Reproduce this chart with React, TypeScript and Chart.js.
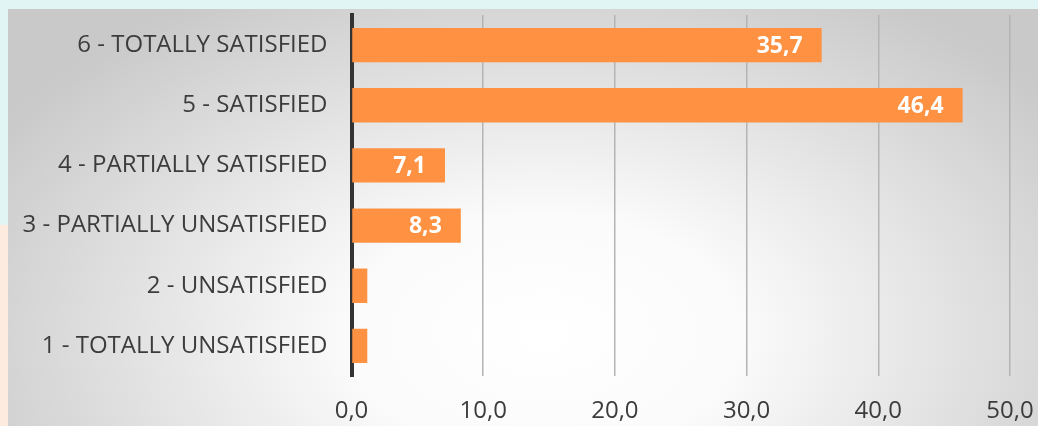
import React, { useEffect, useRef } from "react";
import { Chart, registerables } from "chart.js";

Chart.register(...registerables);

const categories = [
  "6 - TOTALLY SATISFIED",
  "5 - SATISFIED",
  "4 - PARTIALLY SATISFIED",
  "3 - PARTIALLY UNSATISFIED",
  "2 - UNSATISFIED",
  "1 - TOTALLY UNSATISFIED",
];
const values = [35.7, 46.4, 7.1, 8.3, 1.2, 1.2];
const showLabel = [true, true, true, true, false, false];
const xTicks = [0, 10, 20, 30, 40, 50];

const BAR_COLOR = "#fe9142";
const TEXT_COLOR = "#3c3c3c";
const FONT = "'Open Sans', 'Noto Sans', sans-serif";

const valueLabelPlugin = {
  id: "valueLabels",
  afterDatasetsDraw(chart: any) {
    const ctx = chart.ctx;
    const meta = chart.getDatasetMeta(0);
    ctx.save();
    ctx.fillStyle = "#ffffff";
    ctx.font = `bold 23px ${FONT}`;
    ctx.textAlign = "right";
    ctx.textBaseline = "middle";
    meta.data.forEach((bar: any, i: number) => {
      if (!showLabel[i]) return;
      const txt = values[i].toFixed(1).replace(".", ",");
      ctx.fillText(txt, bar.x - 19, bar.y + 1);
    });
    ctx.restore();
  },
};

export default function App() {
  const canvasRef = useRef<HTMLCanvasElement | null>(null);

  useEffect(() => {
    if (!canvasRef.current) return;
    const chart = new Chart(canvasRef.current, {
      type: "bar",
      data: {
        labels: categories,
        datasets: [
          {
            data: values,
            backgroundColor: BAR_COLOR,
            borderWidth: 0,
            barPercentage: 0.57,
            categoryPercentage: 1,
          },
        ],
      },
      options: {
        indexAxis: "y",
        animation: false,
        responsive: false,
        maintainAspectRatio: false,
        devicePixelRatio: 1,
        layout: { padding: { top: 15, right: 28, left: 0, bottom: 0 } },
        plugins: {
          legend: { display: false },
          tooltip: { enabled: false },
        },
        scales: {
          x: {
            min: 0,
            max: 50,
            afterBuildTicks(scale: any) {
              scale.ticks = xTicks.map((v) => ({ value: v }));
            },
            afterFit(scale: any) {
              scale.height = 50;
              scale.paddingLeft = 0;
              scale.paddingRight = 0;
            },
            ticks: {
              color: TEXT_COLOR,
              font: { family: FONT, size: 24 },
              padding: 21,
              callback: (v: any) => Number(v).toFixed(1).replace(".", ","),
              maxRotation: 0,
            },
            grid: {
              color: "#b4b4b4",
              lineWidth: 1.5,
              drawTicks: false,
            },
            border: { display: false },
          },
          y: {
            afterFit(scale: any) {
              scale.width = 351.5;
              scale.paddingTop = 0;
              scale.paddingBottom = 0;
            },
            ticks: {
              color: TEXT_COLOR,
              font: { family: FONT, size: 24 },
              padding: 24,
            },
            grid: { display: false, drawTicks: false },
            border: { display: true, color: "#333333", width: 4 },
          },
        },
      },
      plugins: [valueLabelPlugin],
    });
    return () => chart.destroy();
  }, []);

  return (
    <div
      style={{
        position: "absolute",
        left: 0,
        top: 0,
        width: 1038,
        height: 426,
        background: "#e1f5f5",
        overflow: "hidden",
      }}
    >
      <div
        style={{
          position: "absolute",
          left: 0,
          top: 225,
          width: 8,
          height: 201,
          background: "#fdebe0",
        }}
      />
      <div
        style={{
          position: "absolute",
          left: 8,
          top: 9,
          width: 1030,
          height: 417,
          background:
            "radial-gradient(ellipse 62% 95% at 52% 78%, #ffffff 0%, #fbfbfb 30%, #dedede 70%, #c9c9c9 100%)",
        }}
      />
      <canvas
        ref={canvasRef}
        width={1038}
        height={426}
        style={{ position: "absolute", left: 0, top: 0, width: 1038, height: 426 }}
      />
    </div>
  );
}
